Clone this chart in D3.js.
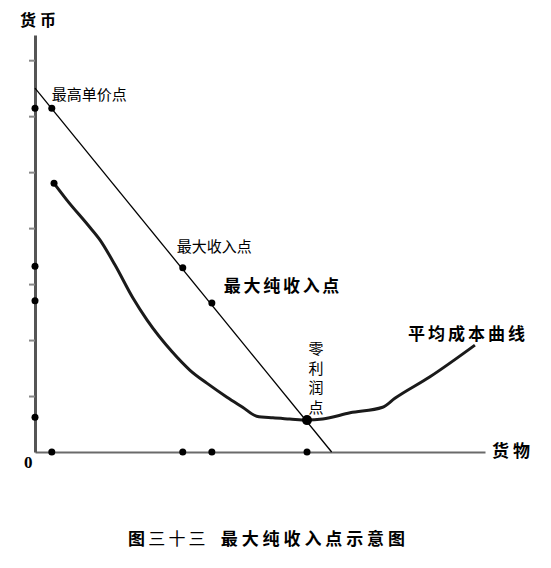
<!DOCTYPE html>
<html><head><meta charset="utf-8">
<script src="https://cdn.jsdelivr.net/npm/d3@7/dist/d3.min.js"></script>
<style>body{margin:0;background:#fff}svg{display:block}</style>
</head><body>
<script>
// ---- data (arbitrary units: 1 unit = one y-axis tick step) ----
const yTicks = [1, 2, 3, 4, 5, 6, 7];
// demand (price) line end points
const priceLine = [[0, 6.5], [5.30, 0]];
// highlighted points on the price line
const lineDots = [[0.30, 6.14], [2.64, 3.29], [3.16, 2.66]];
const zeroProfitPoint = [4.86, 0.57];
// projections on the axes
const yAxisDots = [6.14, 3.32, 2.70, 0.62];
const xAxisDots = [0.30, 2.64, 3.16, 4.86];
// average cost curve
const costX = [0.34, 0.57, 0.95, 1.16, 1.43, 1.75, 2.00, 2.45, 2.77, 3.07, 3.43, 3.71, 3.96, 4.25, 4.55, 4.86, 5.14, 5.63, 6.21, 6.43, 7.05, 7.86];
const costY = [4.80, 4.50, 4.05, 3.79, 3.34, 2.75, 2.36, 1.79, 1.46, 1.23, 0.98, 0.80, 0.64, 0.61, 0.59, 0.57, 0.59, 0.70, 0.80, 0.96, 1.34, 1.91];

const W = 551, H = 568;
const svg = d3.select("body").append("svg").attr("width", W).attr("height", H);
svg.append("rect").attr("width", W).attr("height", H).attr("fill", "#fff");

const x = d3.scaleLinear().domain([0, 8.04]).range([35, 485]);
const y = d3.scaleLinear().domain([0, 7.45]).range([452, 35]);
const F = "'Noto Sans CJK SC', 'Noto Sans', sans-serif";

// x axis
const gx = svg.append("g").attr("transform", `translate(0,${y(0)})`)
  .call(d3.axisBottom(x).tickValues([]).tickSizeOuter(0));
gx.select(".domain").attr("stroke", "#6a6a6a").attr("stroke-width", 2);

// y axis
const gy = svg.append("g").attr("transform", `translate(${x(0)},0)`)
  .call(d3.axisLeft(y).tickValues(yTicks).tickSize(6).tickSizeOuter(0).tickFormat(""));
gy.select(".domain").attr("stroke", "#555").attr("stroke-width", 3);
gy.selectAll(".tick line").attr("stroke", "#888").attr("stroke-width", 2);

// price line
svg.append("line")
  .attr("x1", x(priceLine[0][0])).attr("y1", y(priceLine[0][1]))
  .attr("x2", x(priceLine[1][0])).attr("y2", y(priceLine[1][1]))
  .attr("stroke", "#000").attr("stroke-width", 1.3);

// average cost curve
const costData = costX.map((d, i) => [d, costY[i]]);
svg.append("path").datum(costData)
  .attr("d", d3.line().x(d => x(d[0])).y(d => y(d[1])).curve(d3.curveMonotoneX))
  .attr("fill", "none").attr("stroke", "#1a1a1a").attr("stroke-width", 3).attr("stroke-linejoin", "round");

// dots
const dotR = 3.5;
svg.selectAll(".ld").data(lineDots).join("circle")
  .attr("cx", d => x(d[0])).attr("cy", d => y(d[1])).attr("r", dotR).attr("fill", "#000");
svg.append("circle").attr("cx", x(costData[0][0])).attr("cy", y(costData[0][1])).attr("r", dotR).attr("fill", "#000");
svg.append("circle").attr("cx", x(zeroProfitPoint[0])).attr("cy", y(zeroProfitPoint[1])).attr("r", 5).attr("fill", "#000");
svg.selectAll(".yd").data(yAxisDots).join("circle")
  .attr("cx", x(0)).attr("cy", d => y(d)).attr("r", dotR).attr("fill", "#000");
svg.selectAll(".xd").data(xAxisDots).join("circle")
  .attr("cx", d => x(d)).attr("cy", y(0)).attr("r", dotR).attr("fill", "#000");

// labels
function txt(t, px, py, size, weight, ls, anchor) {
  return svg.append("text").attr("x", px).attr("y", py).text(t)
    .attr("font-family", F).attr("font-size", size).attr("font-weight", weight || "normal")
    .attr("letter-spacing", ls || 0).attr("text-anchor", anchor || "start").attr("fill", "#000");
}
txt("货币", x(0) - 15, 26, 16, "bold", 4);
txt("最高单价点", x(lineDots[0][0]), y(lineDots[0][1]) - 8, 15);
txt("最大收入点", x(lineDots[1][0]) - 6, y(lineDots[1][1]) - 16, 15);
txt("最大纯收入点", x(lineDots[2][0]) + 12, y(lineDots[2][1]) - 11, 17, "bold", 2.7);
["零", "利", "润", "点"].forEach((c, i) => {
  txt(c, x(zeroProfitPoint[0]) + 9, y(zeroProfitPoint[1]) - 66 + i * 19.6, 15, "normal", 0, "middle");
});
txt("平均成本曲线", 408, 340, 17, "bold", 3);
txt("货物", 492, 457, 17, "bold", 4);
svg.append("text").attr("x", 24).attr("y", 468).text("0")
  .attr("font-family", "'Liberation Serif', serif").attr("font-size", 17).attr("font-weight", "bold");

// caption
const cap = svg.append("text").attr("x", 128).attr("y", 545)
  .attr("font-family", F).attr("font-size", 17).attr("letter-spacing", 3.2).attr("fill", "#000");
cap.append("tspan").attr("font-weight", "bold").text("图");
cap.append("tspan").attr("font-weight", "normal").text("三十三");
cap.append("tspan").attr("font-weight", "bold").attr("dx", 12).attr("letter-spacing", 3.9).text("最大纯收入点示意图");
</script>
</body></html>
